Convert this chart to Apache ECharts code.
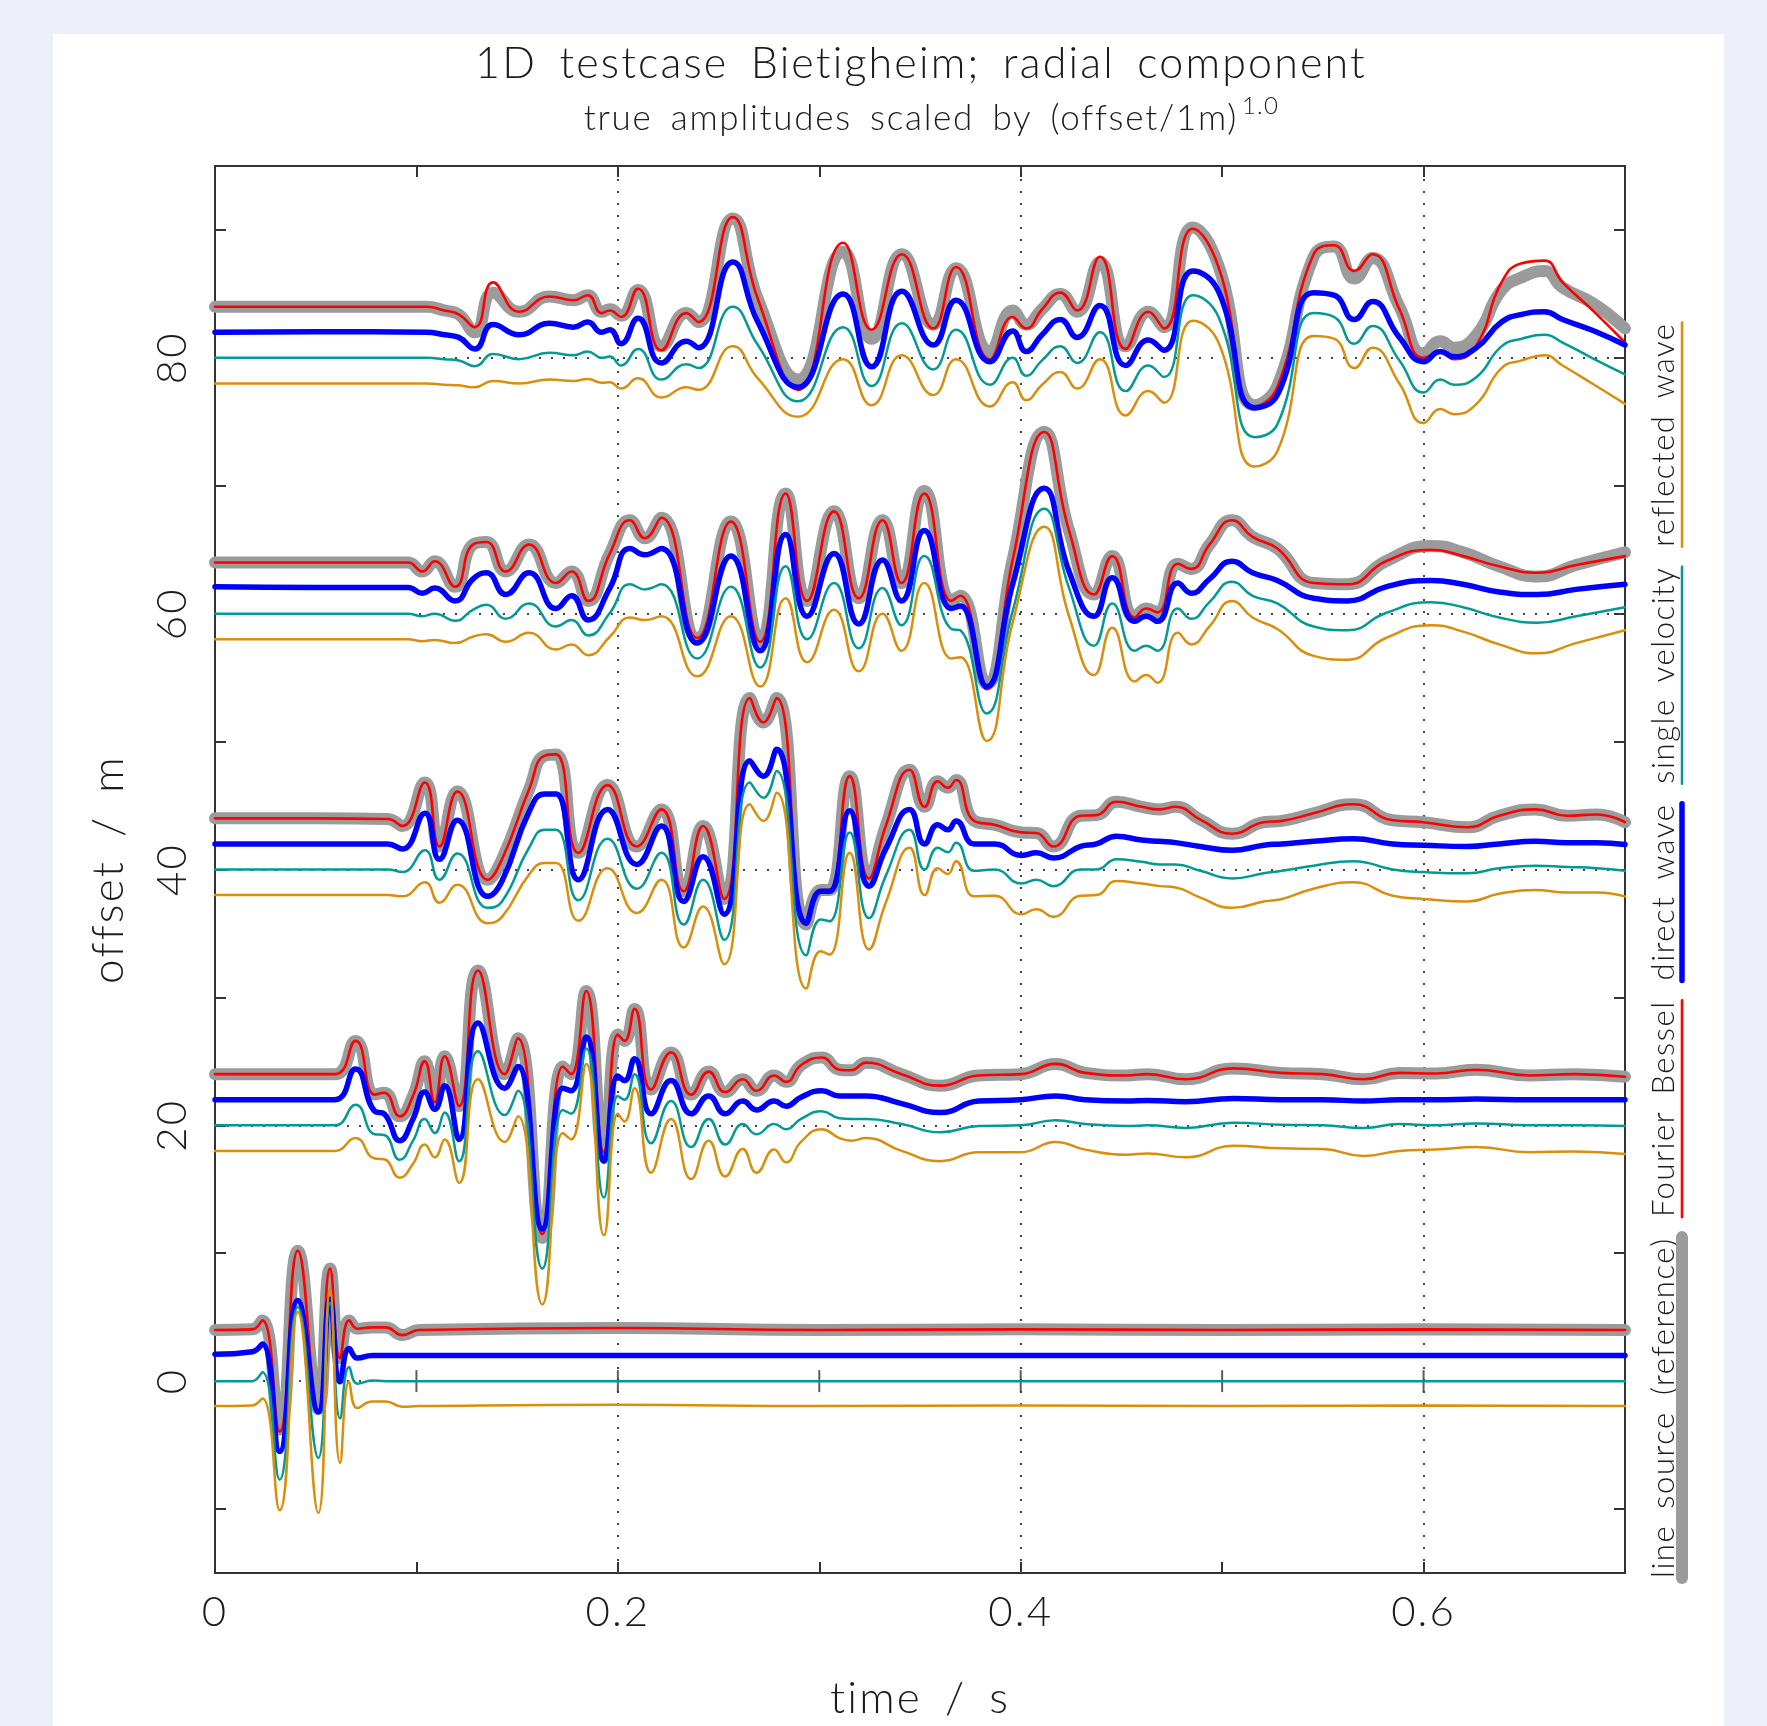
<!DOCTYPE html>
<html>
<head>
<meta charset="utf-8">
<script src="https://cdn.jsdelivr.net/npm/echarts@6/dist/echarts.min.js"></script>
<style>
  html, body { margin: 0; padding: 0; background: #edf0f8; }
  #panel { position: absolute; left: 53px; top: 34px; width: 1671px; height: 1692px; background: #fff; }
  #main { position: absolute; left: 0; top: 0; width: 1767px; height: 1726px; }
</style>
</head>
<body>
<div id="panel"></div>
<div id="main"></div>
<script>
// axis ticks / labels
var timeTicks = [0, 0.1, 0.2, 0.3, 0.4, 0.5, 0.6, 0.7];
var timeLabels = [0, 0.2, 0.4, 0.6];
var timeGrid = [0.2, 0.4, 0.6];
var zeroTicks = [0.1, 0.2, 0.3, 0.4, 0.5, 0.6];
var offsetTicks = [-10, 0, 10, 20, 30, 40, 50, 60, 70, 80, 90];
var offsetLabels = [0, 20, 40, 60, 80];
var offsetGrid = [0, 20, 40, 60, 80];

// trace at offset 0 m
var times0 = [0, 0.0185, 0.0235, 0.0321, 0.0411, 0.0513, 0.0571, 0.0621, 0.0666, 0.0707, 0.078, 0.0848, 0.093, 0.1013, 0.2, 0.3, 0.4, 0.5, 0.6, 0.7];
var gray0 = [4.0, 4.05, 4.75, -3.8, 10.2, -2.2, 8.8, 1.8, 4.75, 4.1, 4.2, 4.2, 3.6, 4.0, 4.15, 4.0, 4.05, 4.0, 4.05, 4.0];
var red0 = [4.0, 4.05, 4.75, -3.95, 10.2, -2.3, 8.8, 1.8, 4.75, 4.1, 4.2, 4.2, 3.6, 4.0, 4.15, 4.0, 4.05, 4.0, 4.05, 4.0];
var blue0 = [2.1, 2.3, 2.9, -5.5, 6.3, -2.4, 6.4, -0.05, 2.55, 1.8, 2.0, 2.0, 2.0, 2.0, 2.0, 2.0, 2.0, 2.0, 2.0, 2.0];
var teal0 = [0.0, 0.0, 0.7, -7.7, 5.8, -6.0, 6.1, -2.9, 1.1, -0.2, 0.05, 0.0, 0.0, 0.0, 0.0, 0.0, 0.0, 0.0, 0.0, 0.0];
var orange0 = [-1.95, -1.9, -1.35, -10.1, 5.4, -10.3, 7.2, -6.4, -0.05, -2.1, -1.6, -1.6, -2.0, -1.95, -1.85, -1.95, -1.9, -1.95, -1.9, -1.95];

// trace at offset 20 m
var times20 = [0, 0.03, 0.0595, 0.0698, 0.0793, 0.084, 0.0917, 0.0983, 0.1041, 0.1091, 0.114, 0.1212, 0.1306, 0.1438, 0.1504, 0.1625, 0.1727, 0.1768, 0.1843, 0.1931, 0.2, 0.2033, 0.2083, 0.2165, 0.2264, 0.2364, 0.2451, 0.2533, 0.262, 0.2688, 0.2776, 0.2835, 0.2909, 0.3012, 0.31, 0.3159, 0.3232, 0.3409, 0.36, 0.3791, 0.4, 0.4174, 0.432, 0.4526, 0.463, 0.482, 0.5056, 0.5291, 0.55, 0.5703, 0.5879, 0.606, 0.6262, 0.6526, 0.675, 0.7];
var gray20 = [24.0, 24.0, 24.0, 26.6, 22.4, 22.55, 20.7, 22.3, 25.0, 21.8, 25.4, 21.5, 32.1, 24.0, 26.8, 11.2, 24.6, 24.0, 30.5, 17.9, 27.1, 26.6, 29.1, 22.8, 25.7, 22.4, 24.2, 22.6, 23.6, 22.7, 23.9, 23.4, 24.7, 25.3, 24.35, 24.3, 24.9, 24.0, 23.1, 23.9, 24.0, 24.8, 24.1, 23.9, 24.0, 23.6, 24.45, 24.1, 24.0, 23.6, 24.1, 24.05, 24.35, 23.9, 24.0, 23.8];
var red20 = [24.0, 24.0, 24.0, 26.6, 22.4, 22.55, 20.7, 22.3, 25.0, 21.8, 25.4, 21.5, 32.1, 24.0, 26.8, 11.5, 24.6, 24.0, 30.5, 17.9, 27.1, 26.6, 29.1, 22.8, 25.7, 22.4, 24.2, 22.6, 23.6, 22.7, 23.9, 23.4, 24.7, 25.3, 24.35, 24.3, 24.9, 24.0, 23.1, 23.9, 24.0, 24.8, 24.1, 23.9, 24.0, 23.6, 24.45, 24.1, 24.0, 23.6, 24.1, 24.05, 24.35, 23.9, 24.0, 23.8];
var blue20 = [22.0, 22.0, 22.0, 24.4, 21.1, 20.9, 18.8, 20.5, 22.6, 21.25, 23.1, 18.9, 28.0, 22.9, 24.6, 11.9, 22.9, 22.7, 26.9, 17.2, 23.85, 23.5, 25.2, 20.9, 23.5, 20.9, 22.3, 20.9, 21.9, 21.2, 21.9, 21.5, 22.2, 22.7, 22.3, 22.3, 22.3, 21.7, 21.0, 21.9, 22.0, 22.3, 22.0, 21.9, 21.95, 21.85, 22.1, 22.0, 22.0, 21.9, 22.0, 22.0, 22.05, 22.0, 22.0, 22.0];
var teal20 = [20.0, 20.0, 20.0, 21.6, 19.3, 19.25, 17.3, 18.8, 20.5, 19.4, 21.0, 17.2, 25.8, 20.8, 22.7, 8.8, 21.2, 20.9, 26.0, 14.35, 22.3, 22.0, 24.0, 18.6, 21.9, 18.3, 20.5, 18.5, 20.1, 19.3, 20.1, 19.7, 20.5, 21.1, 20.55, 20.5, 20.5, 20.1, 19.45, 19.95, 20.0, 20.4, 20.1, 19.95, 20.0, 19.8, 20.2, 20.05, 20.0, 19.8, 20.1, 20.0, 20.15, 20.0, 20.0, 19.95];
var orange20 = [18.0, 18.0, 18.0, 19.0, 17.4, 17.35, 15.9, 17.0, 18.5, 17.5, 18.9, 15.5, 23.6, 18.7, 20.7, 6.0, 19.4, 18.9, 24.8, 11.4, 20.9, 20.3, 22.9, 16.3, 20.5, 15.8, 18.8, 16.0, 18.15, 16.3, 18.1, 17.1, 18.7, 19.7, 19.0, 18.8, 19.0, 18.0, 17.2, 17.9, 17.9, 18.7, 18.1, 17.7, 17.8, 17.5, 18.4, 18.2, 18.15, 17.6, 18.0, 18.1, 18.3, 17.9, 17.95, 17.75];

// trace at offset 40 m
var times40 = [0, 0.05, 0.0857, 0.0931, 0.1042, 0.1114, 0.1203, 0.1354, 0.1425, 0.1559, 0.1637, 0.1693, 0.1804, 0.1949, 0.2094, 0.2216, 0.2327, 0.2423, 0.2528, 0.2655, 0.2722, 0.2788, 0.2935, 0.3007, 0.3051, 0.3151, 0.3247, 0.333, 0.3448, 0.3523, 0.3588, 0.3638, 0.3679, 0.3769, 0.387, 0.4004, 0.4078, 0.4162, 0.4297, 0.4376, 0.4476, 0.46, 0.469, 0.4769, 0.4892, 0.5049, 0.5207, 0.5297, 0.5454, 0.5652, 0.5847, 0.6, 0.6218, 0.6375, 0.6555, 0.6712, 0.6858, 0.7];
var gray40 = [44.0, 44.0, 43.95, 43.4, 46.8, 41.8, 46.1, 39.2, 40.8, 46.25, 48.9, 49.0, 41.3, 46.6, 41.8, 44.7, 38.3, 43.4, 37.7, 53.4, 51.5, 53.4, 35.7, 38.4, 38.4, 47.3, 39.3, 43.4, 47.8, 44.9, 46.9, 46.4, 47.0, 43.8, 43.5, 42.9, 42.85, 41.8, 44.2, 44.25, 45.3, 44.9, 44.7, 44.9, 43.9, 42.8, 43.7, 43.8, 44.4, 45.1, 43.85, 43.7, 43.3, 44.2, 44.7, 44.2, 44.3, 43.7];
var red40 = [44.0, 44.0, 43.95, 43.4, 46.8, 41.8, 46.1, 39.2, 40.8, 46.25, 48.9, 49.0, 41.3, 46.6, 41.8, 44.7, 38.3, 43.4, 37.7, 53.4, 51.5, 53.4, 35.7, 38.4, 38.4, 47.3, 39.3, 43.4, 47.8, 44.9, 46.9, 46.4, 47.0, 43.8, 43.5, 42.9, 42.85, 41.8, 44.2, 44.25, 45.3, 44.9, 44.7, 44.9, 43.9, 42.8, 43.7, 43.8, 44.4, 45.1, 43.85, 43.7, 43.3, 44.2, 44.7, 44.2, 44.3, 43.7];
var blue40 = [42.0, 42.0, 42.0, 41.6, 44.4, 40.8, 43.85, 37.9, 39.1, 44.5, 45.9, 45.9, 39.2, 44.7, 40.4, 43.4, 37.5, 41.0, 36.5, 48.5, 47.3, 49.4, 35.8, 38.3, 38.3, 44.6, 38.7, 41.6, 44.7, 42.0, 43.5, 43.1, 43.8, 42.0, 42.0, 41.1, 41.3, 40.9, 41.8, 42.0, 42.6, 42.3, 42.2, 42.1, 41.8, 41.5, 41.9, 42.0, 42.2, 42.4, 42.0, 41.9, 41.8, 42.0, 42.2, 42.1, 42.1, 41.95];
var teal40 = [40.0, 40.0, 40.0, 39.8, 41.5, 39.2, 41.25, 37.0, 37.5, 41.7, 43.1, 43.1, 37.6, 42.4, 38.5, 41.3, 35.7, 39.2, 34.5, 46.8, 45.6, 47.7, 33.3, 36.1, 35.95, 42.9, 36.2, 39.5, 43.1, 40.0, 41.7, 41.35, 42.1, 39.9, 40.0, 38.9, 39.2, 38.7, 40.0, 40.0, 40.8, 40.6, 40.4, 40.4, 39.9, 39.3, 39.7, 39.9, 40.3, 40.65, 40.0, 39.8, 39.7, 40.1, 40.3, 40.2, 40.1, 39.9];
var orange40 = [38.0, 38.0, 38.0, 37.9, 39.0, 37.4, 38.8, 35.8, 36.3, 39.6, 40.5, 40.5, 36.0, 40.1, 36.6, 39.2, 33.9, 37.1, 32.6, 45.1, 43.8, 46.0, 30.7, 33.6, 33.35, 41.3, 33.75, 37.4, 41.7, 38.0, 40.1, 39.65, 40.65, 37.9, 37.95, 36.5, 36.9, 36.3, 37.95, 38.0, 39.1, 38.9, 38.7, 38.6, 37.8, 37.0, 37.5, 37.7, 38.5, 39.0, 37.95, 37.7, 37.5, 38.1, 38.4, 38.2, 38.2, 37.9];

// trace at offset 60 m
var times60 = [0, 0.05, 0.0958, 0.1029, 0.1091, 0.1192, 0.128, 0.1347, 0.1443, 0.1559, 0.1693, 0.177, 0.1853, 0.196, 0.206, 0.2134, 0.2216, 0.2394, 0.2561, 0.2706, 0.2833, 0.294, 0.3073, 0.3196, 0.3314, 0.3408, 0.3521, 0.3656, 0.37, 0.3831, 0.396, 0.4117, 0.424, 0.4364, 0.4454, 0.4566, 0.4623, 0.4679, 0.478, 0.4847, 0.4937, 0.5049, 0.5151, 0.5274, 0.5454, 0.5622, 0.5813, 0.6038, 0.6196, 0.6375, 0.6566, 0.6757, 0.7];
var gray60 = [64.0, 64.0, 64.0, 63.3, 64.1, 62.1, 65.4, 65.6, 63.3, 65.4, 62.4, 63.3, 61.0, 64.7, 67.3, 65.9, 67.5, 58.1, 67.2, 57.8, 69.4, 61.0, 68.0, 61.2, 67.3, 62.4, 69.6, 61.0, 61.4, 54.5, 64.2, 74.2, 66.5, 61.5, 64.5, 59.7, 60.4, 60.1, 63.9, 63.5, 65.4, 67.3, 66.0, 65.1, 62.4, 62.3, 64.1, 65.3, 64.8, 63.7, 62.9, 63.8, 64.8];
var red60 = [64.0, 64.0, 64.0, 63.3, 64.1, 62.1, 65.4, 65.6, 63.3, 65.4, 62.4, 63.3, 61.0, 64.7, 67.3, 65.9, 67.5, 58.1, 67.2, 57.8, 69.4, 61.0, 68.0, 61.2, 67.3, 62.4, 69.4, 61.0, 61.4, 54.1, 64.2, 74.2, 66.5, 61.5, 64.5, 59.7, 60.4, 60.1, 63.9, 63.5, 65.4, 67.3, 66.0, 65.1, 62.4, 62.3, 64.1, 65.0, 64.5, 63.7, 63.2, 63.8, 64.5];
var blue60 = [62.1, 62.05, 62.05, 61.6, 62.0, 61.0, 62.7, 63.2, 61.5, 63.2, 60.4, 61.4, 59.5, 62.0, 65.1, 64.6, 65.1, 57.7, 64.5, 57.1, 66.2, 59.8, 64.7, 59.2, 64.2, 61.0, 66.5, 60.4, 60.6, 54.3, 62.3, 69.8, 63.3, 59.8, 62.8, 59.4, 59.8, 59.4, 62.4, 61.6, 62.7, 64.1, 63.2, 62.6, 61.2, 61.0, 62.1, 62.6, 62.3, 61.7, 61.5, 61.9, 62.3];
var teal60 = [60.0, 60.0, 60.0, 59.8, 60.0, 59.45, 60.3, 60.7, 59.6, 60.8, 59.0, 59.5, 58.3, 60.05, 62.3, 61.9, 62.3, 56.5, 62.1, 55.8, 63.7, 58.0, 62.4, 57.3, 62.0, 59.1, 64.5, 58.8, 58.7, 52.2, 60.2, 68.2, 62.0, 57.5, 60.8, 57.1, 57.5, 57.1, 60.4, 59.6, 60.9, 62.5, 61.4, 60.8, 59.0, 58.7, 60.05, 60.9, 60.5, 59.7, 59.3, 59.8, 60.5];
var orange60 = [58.0, 58.0, 58.0, 57.85, 57.95, 57.7, 58.2, 58.4, 57.8, 58.5, 57.2, 57.6, 56.75, 58.2, 59.7, 59.5, 59.8, 55.1, 59.8, 54.3, 61.2, 56.2, 60.3, 55.5, 60.0, 57.1, 62.4, 56.5, 56.6, 50.05, 59.3, 66.8, 59.8, 55.2, 58.9, 54.7, 55.2, 54.6, 58.5, 57.6, 59.0, 61.0, 59.7, 58.8, 56.7, 56.4, 58.1, 59.1, 58.6, 57.6, 56.9, 57.7, 58.7];

// trace at offset 80 m
var times80 = [0, 0.05, 0.105, 0.114, 0.121, 0.129, 0.138, 0.151, 0.166, 0.178, 0.185, 0.192, 0.196, 0.2016, 0.21, 0.2216, 0.234, 0.24, 0.257, 0.2695, 0.2895, 0.3118, 0.326, 0.341, 0.3566, 0.3679, 0.3847, 0.396, 0.4027, 0.4106, 0.4196, 0.428, 0.4393, 0.4521, 0.4634, 0.4712, 0.4854, 0.4982, 0.5162, 0.5274, 0.5454, 0.5555, 0.5656, 0.5746, 0.588, 0.6, 0.6083, 0.6151, 0.6263, 0.6387, 0.6488, 0.66, 0.669, 0.6847, 0.7];
var gray80 = [84.0, 84.0, 84.0, 83.7, 83.4, 82.0, 85.1, 83.6, 84.8, 84.5, 84.9, 83.6, 83.8, 83.3, 85.3, 80.9, 83.5, 82.8, 90.9, 84.6, 78.3, 88.3, 81.5, 88.1, 82.6, 87.0, 80.5, 83.7, 82.6, 83.8, 85.0, 83.6, 87.5, 80.9, 83.6, 82.4, 90.2, 87.2, 76.3, 77.8, 87.9, 88.7, 86.2, 87.8, 84.0, 80.3, 81.3, 80.8, 81.8, 85.3, 86.3, 86.8, 85.5, 84.2, 82.3];
var red80 = [84.0, 84.0, 84.0, 83.7, 83.4, 82.4, 85.9, 83.6, 84.8, 84.5, 84.9, 83.5, 83.7, 83.2, 85.4, 80.6, 83.5, 82.8, 91.0, 84.6, 77.5, 89.0, 82.2, 88.1, 82.3, 87.1, 79.9, 83.2, 82.3, 83.8, 85.1, 83.7, 87.9, 80.7, 83.6, 82.3, 90.1, 87.1, 76.2, 77.7, 88.1, 88.8, 86.8, 88.1, 83.8, 80.0, 80.4, 79.9, 81.0, 85.9, 87.4, 87.6, 85.9, 83.6, 81.2];
var blue80 = [82.0, 82.05, 82.0, 81.8, 81.6, 80.7, 82.6, 81.8, 82.7, 82.4, 82.8, 82.0, 82.2, 81.1, 83.1, 79.6, 81.3, 80.8, 87.5, 82.8, 77.7, 85.0, 79.3, 85.2, 81.0, 84.5, 79.7, 82.1, 80.5, 81.8, 83.0, 81.6, 84.1, 79.4, 81.4, 80.6, 86.8, 85.2, 76.1, 77.1, 85.1, 84.9, 83.0, 84.4, 81.6, 79.7, 80.5, 80.1, 80.8, 82.8, 83.4, 83.6, 83.0, 82.1, 81.0];
var teal80 = [80.0, 80.0, 80.0, 79.9, 79.8, 79.35, 80.3, 79.9, 80.4, 80.2, 80.5, 80.0, 80.1, 79.4, 80.7, 78.3, 79.5, 79.2, 84.0, 81.0, 76.6, 82.4, 77.8, 82.7, 79.1, 82.2, 77.9, 80.0, 78.6, 79.8, 80.9, 79.6, 82.0, 77.4, 79.4, 78.5, 84.9, 83.2, 73.8, 74.8, 83.5, 83.2, 81.1, 82.5, 79.8, 77.3, 78.3, 77.9, 78.5, 80.9, 81.5, 81.8, 81.2, 79.9, 78.7];
var orange80 = [78.0, 78.0, 78.0, 77.9, 77.85, 77.7, 78.2, 78.0, 78.3, 78.2, 78.35, 78.05, 78.1, 77.6, 78.4, 76.9, 77.7, 77.5, 80.9, 78.4, 75.4, 79.9, 76.3, 80.2, 77.1, 79.9, 76.2, 78.1, 76.7, 77.9, 78.9, 77.6, 79.9, 75.5, 77.4, 76.5, 82.9, 81.2, 71.5, 72.7, 81.7, 81.5, 79.2, 80.8, 78.0, 74.9, 76.0, 75.6, 76.4, 79.2, 79.8, 80.2, 79.4, 77.9, 76.4];

var traces = [
    {t: times0, gray: gray0, red: red0, blue: blue0, teal: teal0, orange: orange0},
    {t: times20, gray: gray20, red: red20, blue: blue20, teal: teal20, orange: orange20},
    {t: times40, gray: gray40, red: red40, blue: blue40, teal: teal40, orange: orange40},
    {t: times60, gray: gray60, red: red60, blue: blue60, teal: teal60, orange: orange60},
    {t: times80, gray: gray80, red: red80, blue: blue80, teal: teal80, orange: orange80}
];

// curve kinds, drawn in this order (reference at the back)
var kinds = [
    {key: 'gray', name: 'line source (reference)', color: '#9b9b9b', width: 12},
    {key: 'red', name: 'Fourier Bessel', color: '#ff0000', width: 2.6},
    {key: 'blue', name: 'direct wave', color: '#0000ff', width: 5.5},
    {key: 'teal', name: 'single velocity', color: '#039a95', width: 2.5},
    {key: 'orange', name: 'reflected wave', color: '#d98e0c', width: 2.5}
];

var FONT = 'Lato';
var TXT = '#1c1c1c';
var AX = '#333';
var LETTER = 0.05;   // letter spacing, in em
var WORD = 0.2;      // extra word spacing, in em

// the plot font of the original is spaced wide: add letter / word spacing to canvas text
(function () {
    var proto = CanvasRenderingContext2D.prototype;
    var fill = proto.fillText;
    proto.fillText = function (s, x, y, w) {
        var m = /(\d+(?:\.\d+)?)px/.exec(this.font);
        var fs = m ? parseFloat(m[1]) : 12;
        var ls = this.letterSpacing, ws = this.wordSpacing;
        this.letterSpacing = (fs * LETTER).toFixed(2) + 'px';
        this.wordSpacing = (fs * WORD).toFixed(2) + 'px';
        if (w === undefined) fill.call(this, s, x, y); else fill.call(this, s, x, y, w);
        this.letterSpacing = ls;
        this.wordSpacing = ws;
    };
})();

function zip(t, v) {
    var out = [];
    for (var i = 0; i < t.length; i++) out.push([t[i], v[i]]);
    return out;
}

var series = [];
// dotted grid lines
series.push({
    type: 'line', data: [], silent: true,
    markLine: {
        silent: true, symbol: 'none', z: 1,
        label: {show: false},
        lineStyle: {color: '#444', width: 2, type: [2, 10]},
        data: offsetGrid.map(function (v) { return {yAxis: v}; })
            .concat(timeGrid.map(function (v) { return {xAxis: v}; }))
    }
});
// small ticks on the zero line
series.push({
    type: 'scatter', silent: true, z: 1,
    symbol: 'rect', symbolSize: [2, 22],
    itemStyle: {color: AX},
    data: zeroTicks.map(function (t) { return [t, 0]; })
});

kinds.forEach(function (k) {
    traces.forEach(function (tr) {
        series.push({
            type: 'line',
            name: k.name,
            data: zip(tr.t, tr[k.key]),
            showSymbol: false,
            smooth: 0.5,
            clip: false,
            silent: true,
            lineStyle: {color: k.color, width: k.width, cap: 'round', join: 'round'}
        });
    });
});

// legend drawn as vertical text + line to the right of the plot
var ctx = document.createElement('canvas').getContext('2d');
var legendSize = 31;
var legendFont = '300 ' + legendSize + 'px ' + FONT;
ctx.font = legendFont;
ctx.letterSpacing = (legendSize * LETTER).toFixed(2) + 'px';
ctx.wordSpacing = (legendSize * WORD).toFixed(2) + 'px';
var graphics = [];
var cur = 1578;
kinds.forEach(function (k) {
    var w = ctx.measureText(k.name).width;
    graphics.push({
        type: 'text', x: 1664, y: cur - w / 2, rotation: Math.PI / 2,
        style: {text: k.name, font: legendFont, fill: TXT, textAlign: 'center', textVerticalAlign: 'middle'}
    });
    graphics.push({
        type: 'line', shape: {x1: 1682, y1: cur, x2: 1682, y2: cur - w},
        style: {stroke: k.color, lineWidth: k.width, lineCap: 'round'}
    });
    cur -= w + 20;
});

// titles
graphics.push({
    type: 'text', x: 921, y: 64,
    style: {text: '1D testcase Bietigheim; radial component', font: '300 43px ' + FONT, fill: TXT,
        textAlign: 'center', textVerticalAlign: 'middle'}
});
graphics.push({
    type: 'text', x: 1238, y: 119,
    style: {text: 'true amplitudes scaled by (offset/1m)', font: '300 35px ' + FONT, fill: TXT,
        textAlign: 'right', textVerticalAlign: 'middle'}
});
graphics.push({
    type: 'text', x: 1242, y: 106,
    style: {text: '1.0', font: '300 24px ' + FONT, fill: TXT,
        textAlign: 'left', textVerticalAlign: 'middle'}
});

var labelStyle = {fontFamily: FONT, fontWeight: 300, fontSize: 42, color: TXT};
var nameStyle = {fontFamily: FONT, fontWeight: 300, fontSize: 44, color: TXT};
var lineStyle = {color: AX, width: 2};

var option = {
    animation: false,
    grid: {left: 215, top: 166, width: 1410, height: 1408, containLabel: false},
    xAxis: [{
        type: 'value', min: 0, max: 0.7, position: 'bottom',
        name: 'time / s', nameLocation: 'middle', nameGap: 104, nameTextStyle: nameStyle,
        axisLine: {onZero: false, lineStyle: lineStyle},
        axisTick: {inside: true, length: 11, lineStyle: lineStyle, customValues: timeTicks},
        axisLabel: Object.assign({margin: 18, customValues: timeLabels}, labelStyle),
        splitLine: {show: false}
    }, {
        type: 'value', min: 0, max: 0.7, position: 'top',
        axisLine: {onZero: false, lineStyle: lineStyle},
        axisTick: {inside: true, length: 11, lineStyle: lineStyle, customValues: timeTicks},
        axisLabel: {show: false},
        splitLine: {show: false}
    }],
    yAxis: [{
        type: 'value', min: -15, max: 95, position: 'left',
        name: 'offset / m', nameLocation: 'middle', nameGap: 84, nameRotate: 90, nameTextStyle: nameStyle,
        axisLine: {onZero: false, lineStyle: lineStyle},
        axisTick: {inside: true, length: 11, lineStyle: lineStyle, customValues: offsetTicks},
        axisLabel: Object.assign({margin: 22, rotate: 90, customValues: offsetLabels}, labelStyle),
        splitLine: {show: false}
    }, {
        type: 'value', min: -15, max: 95, position: 'right',
        axisLine: {onZero: false, lineStyle: lineStyle},
        axisTick: {inside: true, length: 11, lineStyle: lineStyle, customValues: offsetTicks},
        axisLabel: {show: false},
        splitLine: {show: false}
    }],
    graphic: graphics,
    series: series
};

var chart = echarts.init(document.getElementById('main'));
chart.setOption(option);
</script>
</body>
</html>
